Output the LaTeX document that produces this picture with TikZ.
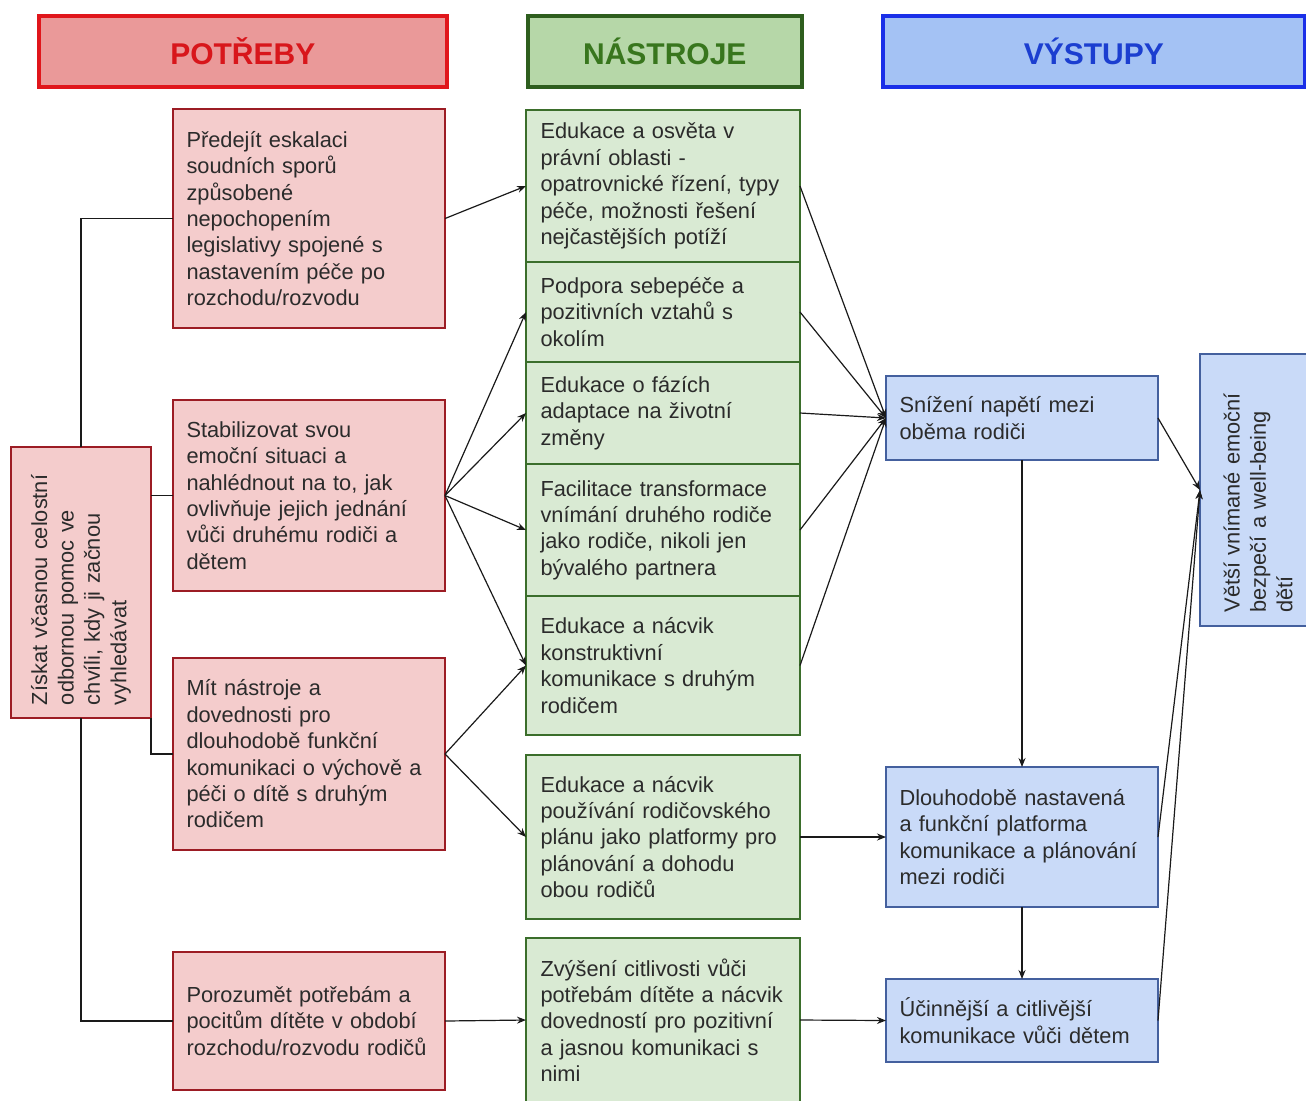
\documentclass[tikz,border=0pt]{standalone}
\usepackage{fontspec}
\setmainfont{Liberation Sans}
\usetikzlibrary{arrows.meta,positioning}
\definecolor{hcervfill}{HTML}{EA9999}
\definecolor{hcervline}{HTML}{E0161B}
\definecolor{hcervtext}{HTML}{D8161B}
\definecolor{hzelfill}{HTML}{B6D7A8}
\definecolor{hzelline}{HTML}{2E5E1E}
\definecolor{hzeltext}{HTML}{38761D}
\definecolor{hmodfill}{HTML}{A4C2F4}
\definecolor{hmodline}{HTML}{1A2FE8}
\definecolor{hmodtext}{HTML}{1B3ED0}
\definecolor{potrebafill}{HTML}{F4CCCC}
\definecolor{potrebaline}{HTML}{9C1C24}
\definecolor{nastrojfill}{HTML}{D9EAD3}
\definecolor{nastrojline}{HTML}{3B6E2B}
\definecolor{vystupfill}{HTML}{C9DAF8}
\definecolor{vystupline}{HTML}{44609E}
\definecolor{textgray}{HTML}{2B2B2B}
\definecolor{spojcol}{HTML}{1A1A1A}
\tikzset{
  hlava/.style={rectangle, anchor=north west, draw=#1line, fill=#1fill, text=#1text,
                line width=1.8pt, minimum height=35.5pt, font=\fontsize{15}{18}\selectfont\bfseries},
  blok/.style={rectangle, anchor=north west, line width=1.2pt, outer sep=0pt, inner sep=0pt,
               align=left, text width=122.5pt, text=textgray, font=\fontsize{10.9}{13.2}\selectfont},
  potreba/.style={blok, draw=potrebaline, fill=potrebafill, minimum width=136pt},
  nastroj/.style={blok, draw=nastrojline, fill=nastrojfill, minimum width=137pt},
  vystup/.style={blok, draw=vystupline, fill=vystupfill, minimum width=136pt},
  spoj/.style={line width=0.6pt, draw=spojcol},
  arr/.style={spoj, -{Stealth[length=4.5pt,width=3.5pt]}},
}
\begin{document}
\begin{tikzpicture}[x=0.5pt, y=-0.5pt, node distance=0pt]
  \useasboundingbox (0,0) rectangle (1306,1100);
  % hlavicky
  \node[hlava=hcerv, minimum width=204pt] (hP) at (37,14) {POTŘEBY};
  \node[hlava=hzel, minimum width=137pt] (hN) at (526,14) {NÁSTROJE};
  \node[hlava=hmod, minimum width=211pt] (hV) at (881,14) {VÝSTUPY};

  % potreby
  \node[potreba, minimum height=109.5pt] (n1) at (173,109) {Předejít eskalaci\\ soudních sporů\\ způsobené\\ nepochopením\\ legislativy spojené s\\ nastavením péče po\\ rozchodu/rozvodu};
  \node[potreba, minimum height=95.5pt] (n2) at (173,400) {Stabilizovat svou\\ emoční situaci a\\ nahlédnout na to, jak\\ ovlivňuje jejich jednání\\ vůči druhému rodiči a\\ dětem};
  \node[potreba, minimum height=96pt] (n3) at (173,658) {Mít nástroje a\\ dovednosti pro\\ dlouhodobě funkční\\ komunikaci o výchově a\\ péči o dítě s druhým\\ rodičem};
  \node[potreba, minimum height=69pt] (n4) at (173,952) {Porozumět potřebám a\\ pocitům dítěte v období\\ rozchodu/rozvodu rodičů};
  \node[potreba, rotate=90, anchor=center, minimum width=135.5pt, minimum height=70pt] (z) at (81,582.5) {Získat včasnou celostní\\ odbornou pomoc ve\\ chvíli, kdy ji začnou\\ vyhledávat};

  % nastroje
  \node[nastroj, minimum height=76pt] (t1) at (526,110) {Edukace a osvěta v\\ právní oblasti -\\ opatrovnické řízení, typy\\ péče, možnosti řešení\\ nejčastějších potíží};
  \node[nastroj, minimum height=50pt, below=of t1] (t2) {Podpora sebepéče a\\ pozitivních vztahů s\\ okolím};
  \node[nastroj, minimum height=51pt, below=of t2] (t3) {Edukace o fázích\\ adaptace na životní\\ změny};
  \node[nastroj, minimum height=66pt, below=of t3] (t4) {Facilitace transformace\\ vnímání druhého rodiče\\ jako rodiče, nikoli jen\\ bývalého partnera};
  \node[nastroj, minimum height=69.5pt, below=of t4] (t5) {Edukace a nácvik\\ konstruktivní\\ komunikace s druhým\\ rodičem};
  \node[nastroj, minimum height=82pt, below=10pt of t5] (t6) {Edukace a nácvik\\ používání rodičovského\\ plánu jako platformy pro\\ plánování a dohodu\\ obou rodičů};
  \node[nastroj, minimum height=82pt, below=9.5pt of t6] (t7) {Zvýšení citlivosti vůči\\ potřebám dítěte a nácvik\\ dovedností pro pozitivní\\ a jasnou komunikaci s\\ nimi};

  % vystupy
  \node[vystup, minimum height=42pt] (v1) at (886,376) {Snížení napětí mezi\\ oběma rodiči};
  \node[vystup, minimum height=70pt] (v2) at (886,767) {Dlouhodobě nastavená\\ a funkční platforma\\ komunikace a plánování\\ mezi rodiči};
  \node[vystup, minimum height=41.5pt] (v3) at (886,979) {Účinnější a citlivější\\ komunikace vůči dětem};
  \node[vystup, rotate=90, anchor=center, minimum width=136pt, minimum height=58pt] (v4) at (1258,490) {Větší vnímané emoční\\ bezpečí a well-being\\ dětí};

  % spojnice
  \draw[spoj] (z.east) |- (n1.west);
  \draw[spoj] (z.south |- n2.west) -- (n2.west);
  \draw[spoj] (z.south west) |- (n3.west);
  \draw[spoj] (z.west) |- (n4.west);
  \draw[arr] (n1.east) -- (t1.west);
  \foreach \t in {t2,t3,t4,t5} \draw[arr] (n2.east) -- (\t.west);
  \foreach \t in {t5,t6} \draw[arr] (n3.east) -- (\t.west);
  \draw[arr] (n4.east) -- (t7.west);
  \foreach \t in {t1,t2,t3,t4,t5} \draw[arr] (\t.east) -- (v1.west);
  \draw[arr] (t6.east) -- (v2.west);
  \draw[arr] (t7.east) -- (v3.west);
  \draw[arr] (v1.south) -- (v2.north);
  \draw[arr] (v2.south) -- (v3.north);
  \foreach \v in {v1,v2,v3} \draw[arr] (\v.east) -- (v4.north);
\end{tikzpicture}
\end{document}
